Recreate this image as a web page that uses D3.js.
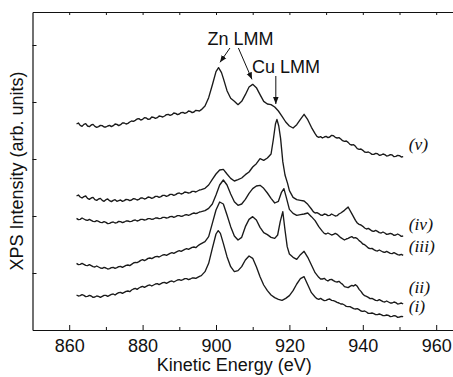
<!DOCTYPE html>
<html>
<head>
<meta charset="utf-8">
<script src="https://cdn.jsdelivr.net/npm/d3@7"></script>
<style>
  html, body { margin: 0; padding: 0; background: #fff; }
  svg { display: block; }
</style>
</head>
<body>
<svg id="chart" width="453" height="377"></svg>
<script>
// ---------------- data (kinetic energy eV, intensity arb. units) ----------------
// main readings (1 eV steps plus peak points)
const curveV = [[862,618],[863,614],[864,617],[865,612],[866,615],[867,611],[868,610],[869,613],[870,609],[871,614],[872,613],[873,617],[874,616],[875,621],[876,620],[877,627],[878,629],[879,634],[880,632],[881,636],[882,633],[883,638],[884,637],[885,641],[886,642],[887,647],[888,646],[889,650],[890,648],[891,653],[892,652],[893,656],[894,654],[895,658],[896,661],[897,672],[898,697],[899,735],[900,775],[900.7,787],[901.5,772],[902,755],[903,718],[904,695],[905,686],[906,676],[907,686],[908,706],[909,729],[910,737],[911,727],[912,706],[913,686],[914,678],[915,676],[916,669],[917,657],[918,641],[919,624],[920,612],[921,606],[922,616],[923,632],[924,647],[925,631],[926,608],[927,589],[928,578],[929,576],[930,581],[931,579],[932,583],[933,576],[934,573],[935,566],[936,563],[937,555],[938,551],[939,542],[940,539],[941,533],[942,531],[943,527],[944,529],[945,525],[946,526],[947,523],[948,525],[949,521],[950,523],[951,520]];
// fine readings of the noisy flat parts (half-eV points)
const curveVFine = [[862.5,621],[863.5,611],[864.5,619],[865.5,610],[866.5,617],[867.5,608],[868.5,614],[869.5,609],[870.5,612],[871.5,610],[872.5,618],[873.5,613],[874.5,621],[875.5,618],[876.5,624],[877.5,626],[878.5,633],[879.5,630],[880.5,637],[881.5,632],[882.5,639],[883.5,635],[884.5,642],[885.5,639],[886.5,646],[887.5,644],[888.5,651],[889.5,646],[890.5,652],[891.5,650],[892.5,657],[893.5,652],[894.5,659],[895.5,657],[927.5,581],[928.5,580],[929.5,579],[930.5,577],[931.5,584],[932.5,578],[933.5,577],[934.5,568],[935.5,567],[936.5,557],[937.5,556],[938.5,544],[939.5,543],[940.5,534],[941.5,534],[942.5,527],[943.5,530],[944.5,524],[945.5,528],[946.5,522],[947.5,526],[948.5,520],[949.5,524],[950.5,519]];

const curveIV = [[862,402],[863,399],[864,400],[865,395],[866,396],[867,391],[868,393],[869,389],[870,391],[871,388],[872,389],[873,386],[874,390],[875,388],[876,391],[877,390],[878,393],[879,392],[880,396],[881,395],[882,398],[883,397],[884,401],[885,400],[886,404],[887,403],[888,407],[889,406],[890,411],[891,410],[892,413],[893,412],[894,416],[895,417],[896,421],[897,425],[898,435],[899,452],[900,468],[901,480],[902,482],[903,468],[904,455],[905,447],[906,451],[907,456],[908,466],[909,474],[910,489],[911,499],[912,514],[913,509],[914,516],[915,528],[915.6,570],[916.2,618],[916.6,632],[917.1,612],[917.6,575],[918.2,505],[918.8,465],[919.5,440],[920,418],[921,398],[922,391],[923,389],[924,387],[925,377],[926,363],[927,351],[928,349],[929,344],[930,347],[931,344],[932,345],[933,343],[934,351],[935,359],[936,369],[937,349],[938,329],[939,317],[940,311],[941,303],[942,301],[943,296],[944,296],[945,291],[946,291],[947,288],[948,288],[949,285],[950,285],[951,282]];
const curveIVFine = [[862.5,405],[863.5,396],[864.5,402],[865.5,392],[866.5,398],[867.5,389],[868.5,395],[869.5,386],[870.5,393],[871.5,385],[872.5,391],[873.5,388],[874.5,386],[875.5,392],[876.5,388],[877.5,394],[878.5,390],[879.5,396],[880.5,393],[881.5,399],[882.5,395],[883.5,401],[884.5,398],[885.5,404],[886.5,401],[887.5,407],[888.5,404],[889.5,410],[890.5,408],[891.5,414],[892.5,411],[893.5,416],[894.5,414],[895.5,420],[926.5,355],[927.5,352],[928.5,345],[929.5,348],[930.5,343],[931.5,348],[932.5,342],[933.5,348],[938.5,321],[939.5,315],[940.5,306],[941.5,305],[942.5,297],[943.5,299],[944.5,292],[945.5,294],[946.5,287],[947.5,290],[948.5,284],[949.5,288],[950.5,281]];

const curveIII = [[862,335],[863,332],[864,333],[865,329],[866,329],[867,325],[868,326],[869,322],[870,323],[871,320],[872,324],[873,322],[874,325],[875,324],[876,327],[877,326],[878,330],[879,329],[880,332],[881,331],[882,334],[883,333],[884,336],[885,335],[886,338],[887,337],[888,341],[889,340],[890,343],[891,342],[892,346],[893,346],[894,351],[895,351],[896,355],[897,358],[898,365],[899,378],[900,405],[901,435],[902,450],[903,435],[904,408],[905,385],[906,374],[907,378],[908,392],[909,410],[910,424],[911,432],[912,434],[913,425],[914,411],[915,395],[916,381],[917,386],[917.8,412],[918.5,424],[919.1,400],[920,362],[921,350],[922,344],[923,346],[924,348],[925,351],[926,340],[927,328],[928,310],[929,296],[930,288],[931,288],[932,287],[933,287],[934,277],[935,270],[936,275],[937,280],[938,277],[939,268],[940,258],[941,251],[942,244],[943,241],[944,237],[945,237],[946,233],[947,233],[948,229],[949,229],[950,225],[951,224]];
const curveIIIFine = [[862.5,331],[863.5,336],[864.5,330],[865.5,332],[866.5,326],[867.5,328],[868.5,323],[869.5,325],[870.5,319],[871.5,323],[872.5,321],[873.5,326],[874.5,322],[875.5,327],[876.5,325],[877.5,329],[878.5,327],[879.5,332],[880.5,330],[881.5,334],[882.5,332],[883.5,336],[884.5,334],[885.5,338],[886.5,336],[887.5,340],[888.5,338],[889.5,343],[890.5,341],[891.5,345],[892.5,344],[893.5,349],[894.5,349],[895.5,354],[929.5,290],[930.5,291],[931.5,285],[932.5,290],[933.5,282],[935.5,273],[936.5,278],[937.5,276],[938.5,274],[939.5,264],[940.5,256],[941.5,246],[942.5,245],[943.5,238],[944.5,240],[945.5,234],[946.5,236],[947.5,230],[948.5,232],[949.5,226],[950.5,227]];

const curveII = [[862,200],[863,197],[864,197],[865,193],[866,193],[867,189],[868,189],[869,185],[870,186],[871,184],[872,188],[873,187],[874,191],[875,191],[876,195],[877,197],[878,203],[879,205],[880,211],[881,211],[882,216],[883,217],[884,221],[885,222],[886,226],[887,227],[888,232],[889,233],[890,238],[891,239],[892,244],[893,245],[894,249],[895,252],[896,259],[897,265],[898,280],[899,320],[900,360],[901,384],[902,378],[903,345],[904,310],[905,282],[906,270],[907,278],[908,310],[909,332],[910,340],[911,330],[912,308],[913,292],[914,286],[915,278],[916,275],[916.8,285],[917.5,325],[918.2,355],[918.8,300],[919.4,250],[920,228],[921,218],[922,212],[923,226],[924,236],[925,218],[926,195],[927,172],[928,158],[929,153],[930,150],[931,151],[932,148],[933,144],[934,141],[935,130],[936,127],[937,134],[938,136],[939,122],[940,108],[941,101],[942,94],[943,92],[944,88],[945,88],[946,84],[947,84],[948,81],[949,82],[950,79],[951,78]];
const curveIIFine = [[862.5,196],[863.5,200],[864.5,194],[865.5,196],[866.5,190],[867.5,192],[868.5,186],[869.5,188],[870.5,183],[871.5,187],[872.5,185],[873.5,190],[874.5,188],[875.5,194],[876.5,193],[877.5,201],[878.5,202],[879.5,209],[880.5,208],[881.5,215],[882.5,214],[883.5,220],[884.5,219],[885.5,225],[886.5,224],[887.5,230],[888.5,230],[889.5,236],[890.5,236],[891.5,242],[892.5,242],[893.5,248],[894.5,247],[895.5,256],[928.5,153],[929.5,155],[930.5,147],[931.5,152],[932.5,145],[933.5,146],[934.5,137],[936.5,131],[937.5,132],[938.5,131],[939.5,116],[940.5,103],[941.5,98],[942.5,95],[943.5,89],[944.5,91],[945.5,85],[946.5,87],[947.5,81],[948.5,84],[949.5,78],[950.5,81]];

const curveI = [[862,105],[863,103],[864,104],[865,101],[866,102],[867,99],[868,101],[869,101],[870,104],[871,104],[872,108],[873,109],[874,113],[875,113],[876,117],[877,120],[878,125],[879,126],[880,131],[881,131],[882,135],[883,135],[884,139],[885,139],[886,143],[887,143],[888,147],[889,147],[890,151],[891,151],[892,154],[893,153],[894,156],[895,158],[896,163],[897,175],[898,200],[899,245],[900,288],[900.6,298],[901.2,290],[902,260],[903,220],[904,190],[905,175],[906,178],[907,190],[908,210],[909,222],[910,215],[911,190],[912,160],[913,135],[914,118],[915,105],[916,97],[917,92],[918,89],[919,95],[920,103],[921,118],[922,138],[923,154],[924,160],[925,136],[926,112],[927,99],[928,92],[929,91],[930,89],[931,93],[932,88],[933,83],[934,78],[935,75],[936,70],[937,67],[938,63],[939,61],[940,56],[941,54],[942,50],[943,49],[944,46],[945,46],[946,43],[947,44],[948,41],[949,42],[950,39],[951,40]];
const curveIFine = [[862.5,102],[863.5,106],[864.5,100],[865.5,104],[866.5,98],[867.5,102],[868.5,98],[869.5,104],[870.5,101],[871.5,107],[872.5,105],[873.5,112],[874.5,110],[875.5,116],[876.5,115],[877.5,123],[878.5,122],[879.5,129],[880.5,128],[881.5,134],[882.5,132],[883.5,138],[884.5,136],[885.5,142],[886.5,140],[887.5,146],[888.5,144],[889.5,150],[890.5,149],[891.5,154],[892.5,151],[893.5,156],[894.5,155],[895.5,161],[927.5,94],[928.5,95],[929.5,88],[930.5,92],[931.5,89],[932.5,86],[933.5,81],[934.5,78],[935.5,71],[936.5,70],[937.5,64],[938.5,64],[939.5,57],[940.5,57],[941.5,50],[942.5,51],[943.5,46],[944.5,48],[945.5,43],[946.5,45],[947.5,40],[948.5,43],[949.5,38],[950.5,41]];

const seriesLabels = ["(v)", "(iv)", "(iii)", "(ii)", "(i)"];
const seriesLabelLevels = [540, 300, 235, 110, 55];   // label baselines (arb. units)
const xMajorTicks = [860, 880, 900, 920, 940, 960];
const xMinorTicks = [870, 890, 910, 930, 950];
const xTopTicks = [860, 870, 880, 890, 900, 910, 920, 930, 940, 950, 960];
const yTicks = [171, 342, 513, 684, 855];
const xDomain = [850, 970];
const yDomain = [0, 954];

// annotations: [text, x, y]  arrows: [x1, y1, x2, y2]
const annoTexts = [["Zn LMM", 906.7, 855], ["Cu LMM", 909.8, 772]];
const annoArrows = [[903.8, 846, 901.1, 803], [906.1, 846, 909.8, 752], [916.3, 762, 916.3, 678]];

// ---------------- drawing ----------------
const svg = d3.select("#chart");
const mLeft = 32.5, mRight = 472.9, mTop = 12, mBottom = 330;
const x = d3.scaleLinear().domain(xDomain).range([mLeft, mRight]);
const y = d3.scaleLinear().domain(yDomain).range([mBottom, mTop]);
const FONT = "'Liberation Sans', Arial, sans-serif";

svg.append("defs").append("marker")
  .attr("id", "arrow").attr("viewBox", "0 0 10 10")
  .attr("refX", 10).attr("refY", 5)
  .attr("markerWidth", 7).attr("markerHeight", 7)
  .attr("markerUnits", "userSpaceOnUse")
  .attr("orient", "auto")
  .append("path").attr("d", "M0,1 L10,5 L0,9 Z").attr("fill", "#111");

// curves
const merge = (a, b) => a.concat(b).sort((p, q) => p[0] - q[0]);
const curves = [
  merge(curveV, curveVFine), merge(curveIV, curveIVFine), merge(curveIII, curveIIIFine),
  merge(curveII, curveIIFine), merge(curveI, curveIFine)
];
const line = d3.line().x(d => x(d[0])).y(d => y(d[1]));
svg.append("g").selectAll("path").data(curves).join("path")
  .attr("d", line)
  .attr("fill", "none")
  .attr("stroke", "#1a1a1a")
  .attr("stroke-width", 1.35)
  .attr("stroke-linejoin", "round");

// series labels
svg.append("g").selectAll("text").data(seriesLabels).join("text")
  .attr("x", x(952.5))
  .attr("y", (d, i) => y(seriesLabelLevels[i]))
  .attr("font-family", "'Liberation Serif', 'Times New Roman', serif")
  .attr("font-style", "italic")
  .attr("font-size", 17.5)
  .attr("fill", "#111")
  .text(d => d);

// axes
const axG = svg.append("g");
const bx = axG.append("g").attr("transform", `translate(0,${mBottom})`)
  .call(d3.axisBottom(x).tickValues(xMajorTicks).tickSize(-5).tickSizeOuter(0).tickPadding(9).tickFormat(d3.format("d")));
bx.selectAll("text").attr("font-family", FONT).attr("font-size", 18).attr("fill", "#111");
axG.append("g").attr("transform", `translate(0,${mBottom})`)
  .call(d3.axisBottom(x).tickValues(xMinorTicks).tickSize(-3).tickSizeOuter(0).tickFormat(""));
axG.append("g").attr("transform", `translate(0,${mTop})`)
  .call(d3.axisTop(x).tickValues(xTopTicks).tickSize(-3).tickSizeOuter(0).tickFormat(""));
axG.append("g").attr("transform", `translate(${mLeft},0)`)
  .call(d3.axisLeft(y).tickValues(yTicks).tickSize(-4).tickSizeOuter(0).tickFormat(""));
axG.selectAll(".domain").attr("stroke", "#111").attr("stroke-width", 1.2);
axG.selectAll(".tick line").attr("stroke", "#111").attr("stroke-width", 1);

// axis titles
svg.append("text")
  .attr("x", (mLeft + x(960)) / 2).attr("y", 371)
  .attr("text-anchor", "middle")
  .attr("font-family", FONT).attr("font-size", 18).attr("fill", "#111")
  .text("Kinetic Energy (eV)");
svg.append("text")
  .attr("transform", `translate(22.5,${(mTop + mBottom) / 2}) rotate(-90)`)
  .attr("text-anchor", "middle")
  .attr("font-family", FONT).attr("font-size", 18).attr("fill", "#111")
  .text("XPS Intensity (arb. units)");

// annotations
svg.append("g").selectAll("line").data(annoArrows).join("line")
  .attr("x1", d => x(d[0])).attr("y1", d => y(d[1]))
  .attr("x2", d => x(d[2])).attr("y2", d => y(d[3]))
  .attr("stroke", "#111").attr("stroke-width", 1)
  .attr("marker-end", "url(#arrow)");
svg.append("g").selectAll("text").data(annoTexts).join("text")
  .attr("x", d => x(d[1])).attr("y", d => y(d[2]))
  .attr("text-anchor", (d, i) => i === 0 ? "middle" : "start")
  .attr("font-family", FONT).attr("font-size", 18).attr("fill", "#111")
  .text(d => d[0]);
</script>
</body>
</html>
